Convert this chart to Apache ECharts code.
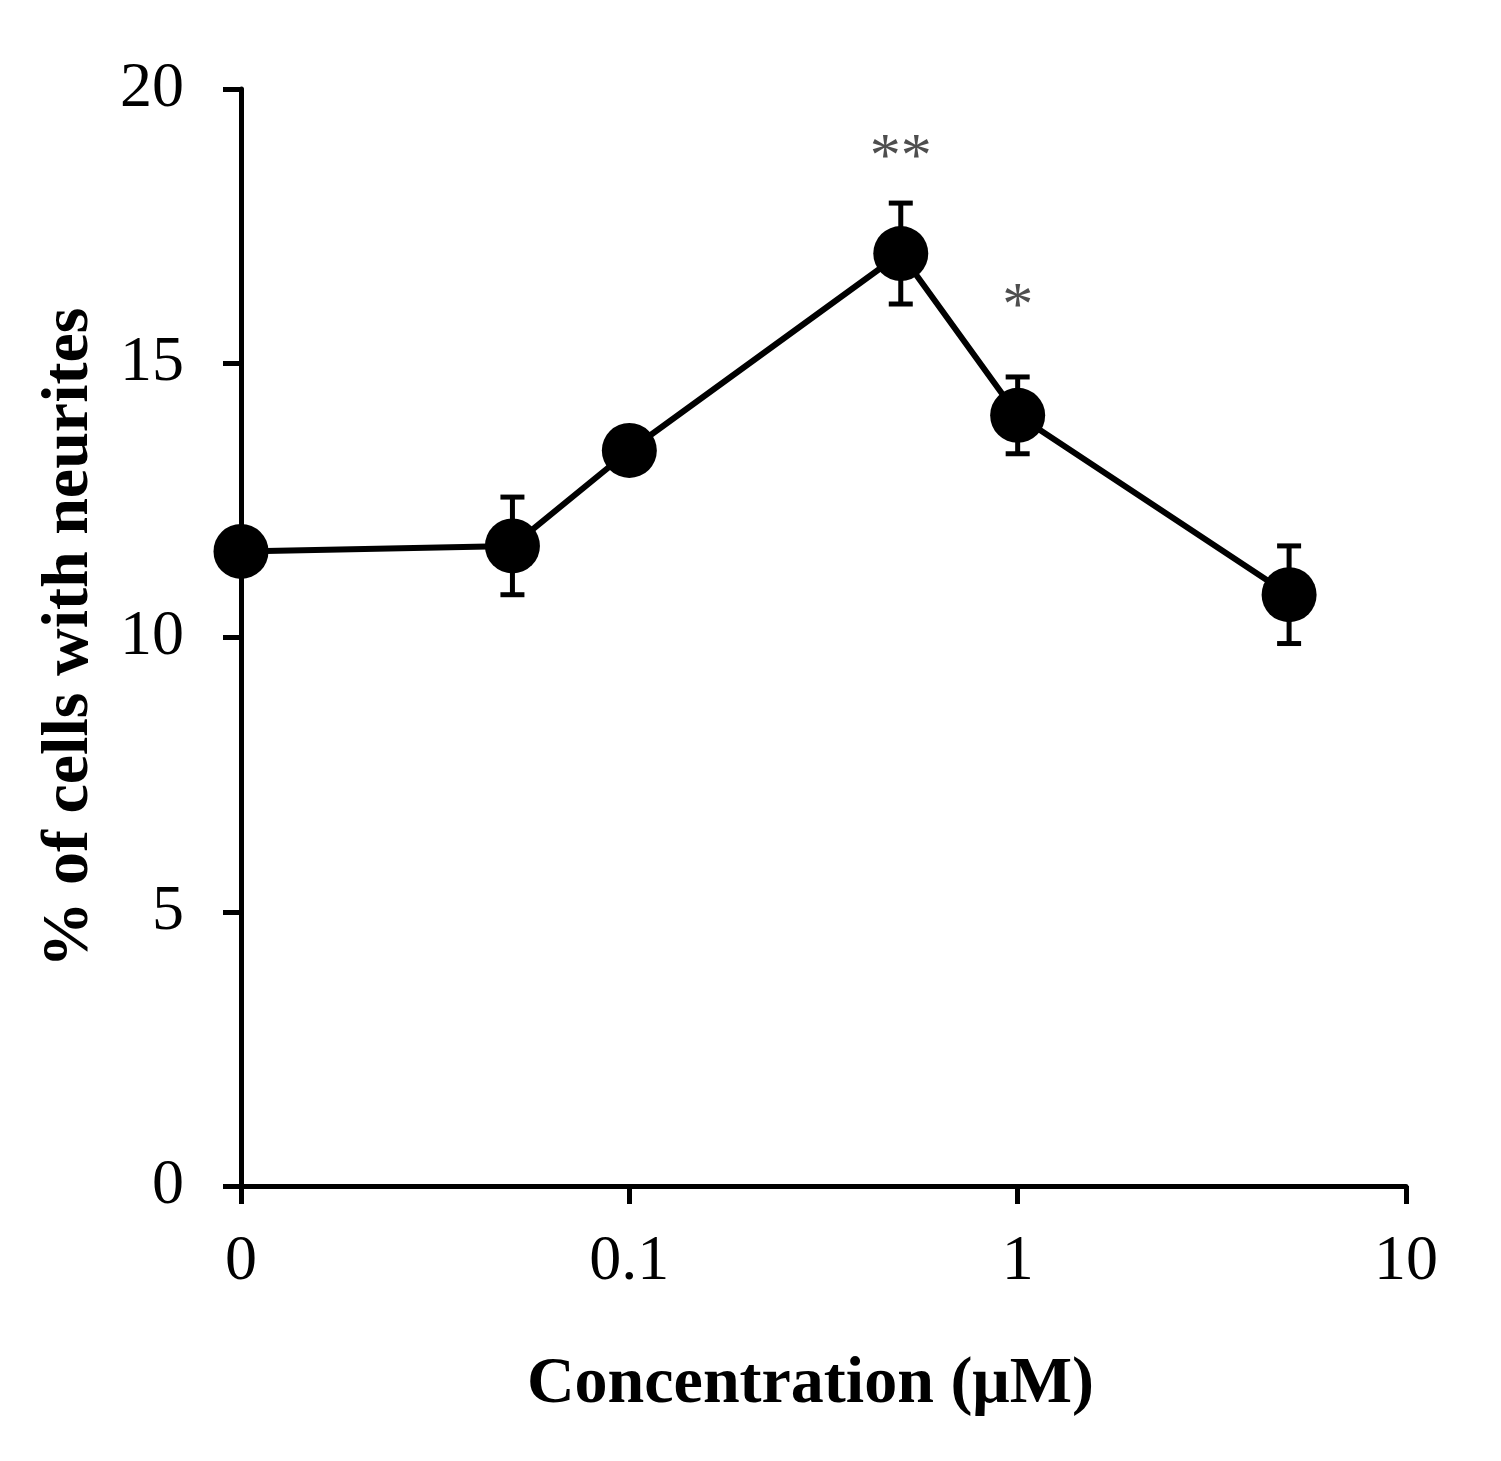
<!DOCTYPE html>
<html>
<head>
<meta charset="utf-8">
<script src="https://cdn.jsdelivr.net/npm/echarts@6/dist/echarts.min.js"></script>
<style>
  html, body { margin: 0; padding: 0; background: #fff; }
  #chart { width: 1501px; height: 1461px; }
</style>
</head>
<body>
<div id="chart"></div>
<script>
// concentrations in µM (0 = control, drawn at the first log tick)
const concentration = [0, 0.05, 0.1, 0.5, 1, 5];
const cellsPct = [11.57, 11.67, 13.41, 17.0, 14.05, 10.78];
const errPct = [0.35, 0.89, 0.35, 0.92, 0.7, 0.89];
const signif = ['', '', '', '**', '*', ''];
const signifLevel = [null, null, null, 18.72, 16.02, null];

const xTicks = [0.01, 0.1, 1, 10];
const xTickLabels = ['0', '0.1', '1', '10'];
const yTicks = [0, 5, 10, 15, 20];

const ZERO_POS = 0.01; // where the control (0) sits on the log axis
const xPos = concentration.map(c => (c === 0 ? ZERO_POS : c));

const font = '"Liberation Serif", "Times New Roman", serif';

const chart = echarts.init(document.getElementById('chart'));

const option = {
  backgroundColor: '#fff',
  animation: false,
  grid: { left: 241, right: 95, top: 89, bottom: 275 },
  xAxis: {
    type: 'log',
    logBase: 10,
    min: xTicks[0],
    max: xTicks[xTicks.length - 1],
    name: 'Concentration (\u03bcM)',
    nameLocation: 'middle',
    nameGap: 166,
    nameTextStyle: { fontFamily: font, fontWeight: 'bold', fontSize: 66, color: '#000', padding: [0, 26, 0, 0] },
    axisLine: { lineStyle: { color: '#000', width: 5 } },
    axisTick: { show: true, inside: false, length: 18, lineStyle: { color: '#000', width: 5 } },
    minorTick: { show: false },
    splitLine: { show: false },
    axisLabel: {
      margin: 44,
      fontFamily: font,
      fontSize: 64,
      color: '#000',
      formatter: v => {
        const i = xTicks.findIndex(t => Math.abs(Math.log10(t) - Math.log10(v)) < 1e-6);
        return i >= 0 ? xTickLabels[i] : '';
      }
    }
  },
  yAxis: {
    type: 'value',
    min: yTicks[0],
    max: yTicks[yTicks.length - 1],
    interval: 5,
    name: '% of cells with neurites',
    nameLocation: 'middle',
    nameGap: 138,
    nameTextStyle: { fontFamily: font, fontWeight: 'bold', fontSize: 66, color: '#000' },
    axisLine: { show: true, lineStyle: { color: '#000', width: 5 } },
    axisTick: { show: true, inside: false, length: 18, lineStyle: { color: '#000', width: 5 } },
    splitLine: { show: false },
    axisLabel: { margin: 57, fontFamily: font, fontSize: 64, color: '#000' }
  },
  series: [
    {
      // error bars
      type: 'custom',
      z: 1,
      data: xPos.map((x, i) => [x, cellsPct[i], errPct[i]]),
      renderItem: (params, api) => {
        const x = api.value(0), y = api.value(1), e = api.value(2);
        const top = api.coord([x, y + e]);
        const bot = api.coord([x, y - e]);
        const cap = 12;
        const style = { stroke: '#000', lineWidth: 5 };
        return {
          type: 'group',
          children: [
            { type: 'line', shape: { x1: top[0], y1: top[1], x2: bot[0], y2: bot[1] }, style },
            { type: 'line', shape: { x1: top[0] - cap, y1: top[1], x2: top[0] + cap, y2: top[1] }, style },
            { type: 'line', shape: { x1: bot[0] - cap, y1: bot[1], x2: bot[0] + cap, y2: bot[1] }, style }
          ]
        };
      }
    },
    {
      type: 'line',
      z: 2,
      data: xPos.map((x, i) => [x, cellsPct[i]]),
      symbol: 'circle',
      symbolSize: 55,
      itemStyle: { color: '#000' },
      lineStyle: { color: '#000', width: 6 }
    },
    {
      // significance marks
      type: 'scatter',
      z: 3,
      symbolSize: 0,
      data: xPos.map((x, i) => ({ value: [x, signifLevel[i]], name: signif[i] }))
        .filter((d, i) => signif[i] !== ''),
      label: {
        show: true,
        position: 'inside',
        formatter: p => p.name,
        fontFamily: font,
        fontSize: 62,
        color: '#222'
      }
    }
  ]
};

chart.setOption(option);
</script>
</body>
</html>
